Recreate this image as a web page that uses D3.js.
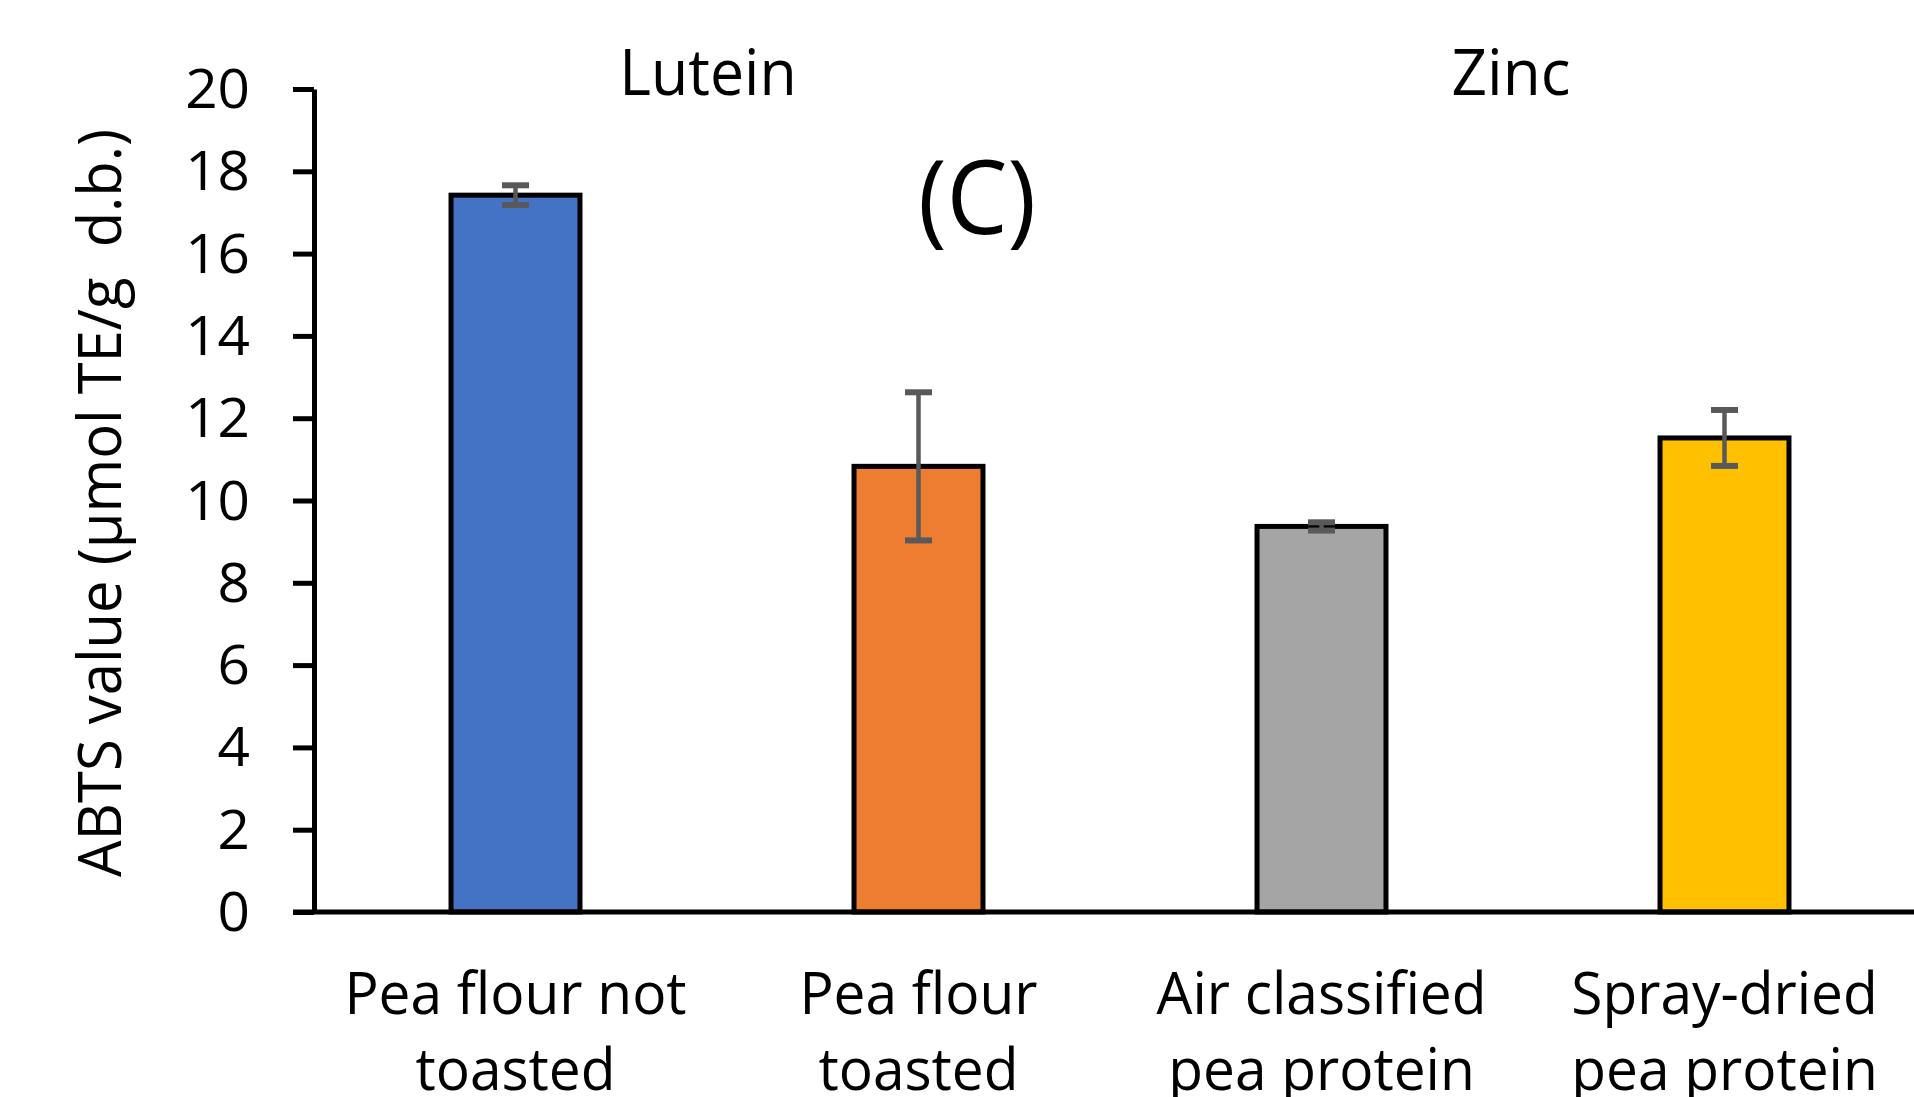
<!DOCTYPE html>
<html>
<head>
<meta charset="utf-8">
<script src="https://cdn.jsdelivr.net/npm/d3@7"></script>
<style>
  html, body { margin: 0; padding: 0; background: #fff; }
  svg text { font-family: "Open Sans", "Noto Sans", sans-serif; fill: #000; }
</style>
</head>
<body>
<svg id="chart" width="1914" height="1097"></svg>
<script>
// ABTS values per sample
const categories = ["Pea flour not toasted", "Pea flour toasted", "Air classified pea protein", "Spray-dried pea protein"]
const labelLines = [["Pea flour not", "toasted"], ["Pea flour", "toasted"], ["Air classified", "pea protein"], ["Spray-dried", "pea protein"]]
const values = [17.42, 10.83, 9.37, 11.52]
const errors = [0.24, 1.8, 0.1, 0.68]
const colors = ["#4472C4", "#ED7D31", "#A5A5A5", "#FFC000"]
const yTicks = [0, 2, 4, 6, 8, 10, 12, 14, 16, 18, 20]

const svg = d3.select("#chart")

const y = d3.scaleLinear().domain([0, 20]).range([912, 89])
const x = d3.scaleBand().domain(categories).range([314, 1926]).paddingInner(0.68).paddingOuter(0.34)

// text helper, sx squeezes/stretches horizontally
function label(g, txt, px, py, size, sx, anchor) {
  return g.append("text")
    .attr("transform", `translate(${px},${py}) scale(${sx},1)`)
    .attr("text-anchor", anchor || "middle")
    .style("font-size", size + "px")
    .style("white-space", "pre")
    .text(txt)
}

// bars
svg.append("g").selectAll("rect")
  .data(values)
  .join("rect")
  .attr("x", (d, i) => x(categories[i]))
  .attr("width", x.bandwidth())
  .attr("y", (d) => y(d))
  .attr("height", (d) => y(0) - y(d))
  .attr("fill", (d, i) => colors[i])
  .attr("stroke", "#000")
  .attr("stroke-width", 5)

// error bars
const eb = svg.append("g").attr("stroke", "#595959")
values.forEach((v, i) => {
  const cx = x(categories[i]) + x.bandwidth() / 2
  eb.append("line").attr("x1", cx).attr("x2", cx).attr("y1", y(v + errors[i])).attr("y2", y(v - errors[i])).attr("stroke-width", 4.5)
  ;[v + errors[i], v - errors[i]].forEach((e) => {
    eb.append("line").attr("x1", cx - 13.5).attr("x2", cx + 13.5).attr("y1", y(e)).attr("y2", y(e)).attr("stroke-width", 6)
  })
})

// y axis
const yAxis = svg.append("g")
  .attr("transform", "translate(314,0)")
  .call(d3.axisLeft(y).tickValues(yTicks).tickSize(21).tickSizeOuter(0).tickFormat(""))
yAxis.select(".domain").attr("stroke", "#000").attr("stroke-width", 5)
yAxis.selectAll(".tick line").attr("stroke", "#000").attr("stroke-width", 5)
yTicks.forEach((t) => {
  label(svg, String(t), 250, y(t) + 19, 54, 1.05, "end")
})

// x axis baseline
svg.append("line").attr("x1", 293).attr("x2", 1914).attr("y1", y(0)).attr("y2", y(0))
  .attr("stroke", "#000").attr("stroke-width", 5)

// category labels
labelLines.forEach((lines, i) => {
  const cx = x(categories[i]) + x.bandwidth() / 2
  lines.forEach((ln, j) => label(svg, ln, cx, 1014 + j * 76, 58, 0.98))
})

// y axis title
svg.append("text")
  .attr("transform", `translate(121,503) rotate(-90) scale(0.95,1)`)
  .attr("text-anchor", "middle")
  .style("font-size", "61px")
  .style("white-space", "pre")
  .text("ABTS value (μmol TE/g  d.b.)")

// headings
label(svg, "Lutein", 708, 95, 64, 0.95)
label(svg, "Zinc", 1511, 95, 64, 0.97)
label(svg, "(C)", 977, 234, 102, 0.95)
</script>
</body>
</html>
